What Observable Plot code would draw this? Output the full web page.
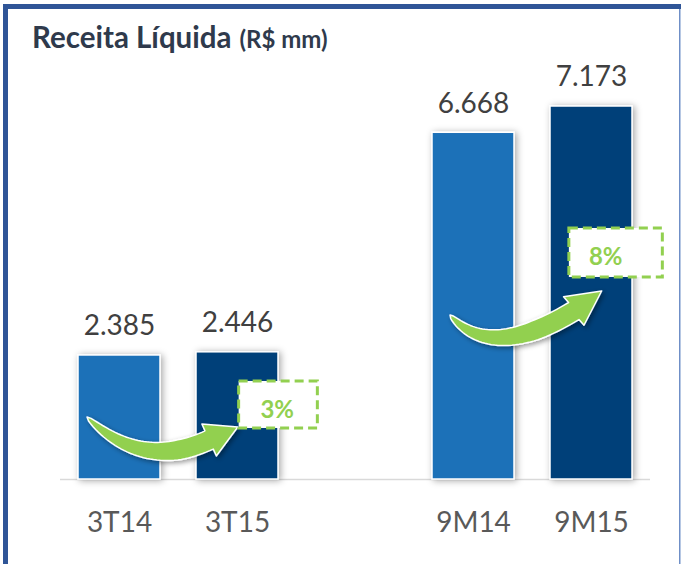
<!DOCTYPE html>
<html><head><meta charset="utf-8">
<script src="https://cdn.jsdelivr.net/npm/d3@7"></script>
<script src="https://cdn.jsdelivr.net/npm/@observablehq/plot@0.6"></script>
<style>
html,body{margin:0;padding:0;background:#fff;}
#chart{position:relative;width:681px;height:564px;overflow:hidden;}
#chart svg{position:absolute;left:0;top:0;}
</style></head><body><div id="chart"></div>
<script>
// ---- data ----
const categories = ["3T14", "3T15", "9M14", "9M15"];
const values = [2385, 2446, 6668, 7173];
const barColors = ["#1E71B8", "#004179", "#1E71B8", "#004179"];
const xDomain = ["3T14", "3T15", " ", "9M14", "9M15"]; // blank slot = group gap
const titleMain = "Receita Líquida";
const titleUnit = "(R$ mm)";

// growth annotations
const growthFrom = ["3T14", "9M14"];
const growthTo = ["3T15", "9M15"];
const growthLabels = ["3%", "8%"];
// annotation geometry: [fraction of bar width, value on y scale]
const arrowTail = [[0.11, 1192], [0.22, 3154]];   // relative to "from" bar
const arrowCtrl = [[0.78, 154], [0.71, 2250]];    // relative to "from" bar
const arrowBase = [[0.16, 750], [0.29, 3230]];    // relative to "to" bar
const arrowTip = [[0.51, 1000], [0.63, 3615]];    // relative to "to" bar
const boxX = [[0.52, 1.48], [0.23, 1.37]];        // relative to "to" bar
const boxY = [[981, 1885], [3885, 4827]];
const labelPos = [[0.99, 1330], [0.68, 4280]];    // relative to "to" bar

const data = categories.map((c, i) => ({cat: c, value: values[i]}));
const fmt = d3.formatLocale({decimal: ",", thousands: ".", grouping: [3], currency: ["R$ ", ""]}).format(",d");

const FONT = "Lato, 'Open Sans', sans-serif";

const chart = Plot.plot({
  width: 681, height: 564,
  marginTop: 63, marginBottom: 85, marginLeft: 60, marginRight: 31,
  style: {fontFamily: FONT, background: "transparent", overflow: "visible"},
  x: {type: "band", domain: xDomain, paddingInner: 0.305, paddingOuter: 0.1525},
  y: {domain: [0, 8000], axis: null},
  color: {type: "ordinal", domain: categories, range: barColors},
  marks: [
    Plot.ruleY([0], {stroke: "#d9d9d9", strokeWidth: 1.5}),
    Plot.barY(data, {x: "cat", y: "value", fill: "cat", stroke: "#ffffff", strokeWidth: 1.5}),
    Plot.text(data, {x: "cat", y: "value", text: d => fmt(d.value), dy: -29, lineAnchor: "middle", fontSize: 28, fill: "#404040"}),
    Plot.axisX({ticks: categories, tickSize: 0, tickPadding: 33, fontSize: 28, color: "#595959", label: null})
  ]
});
document.getElementById("chart").appendChild(chart);

const svg = d3.select(chart);
const defs = svg.insert("defs", ":first-child");
const f1 = defs.append("filter").attr("id", "barShadow").attr("x", "-30%").attr("y", "-30%").attr("width", "160%").attr("height", "160%");
f1.append("feDropShadow").attr("dx", 2).attr("dy", 1).attr("stdDeviation", 3.5).attr("flood-color", "#000").attr("flood-opacity", 0.35);
const f2 = defs.append("filter").attr("id", "arrowShadow").attr("x", "-30%").attr("y", "-30%").attr("width", "160%").attr("height", "160%");
f2.append("feDropShadow").attr("dx", 2).attr("dy", 2).attr("stdDeviation", 2.5).attr("flood-color", "#000").attr("flood-opacity", 0.4);
svg.select('g[aria-label="bar"]').attr("filter", "url(#barShadow)");

const xs = chart.scale("x"), ys = chart.scale("y");
const bw = xs.bandwidth;
const px = (cat, frac) => xs.apply(cat) + frac * bw;
const py = v => ys.apply(v);

function swoosh(p0, c, p1, tip, bodyW, headW) {
  const N = 40, A = [], B = [];
  for (let i = 0; i <= N; i++) {
    const t = i / N, mt = 1 - t;
    const x = mt * mt * p0[0] + 2 * mt * t * c[0] + t * t * p1[0];
    const y = mt * mt * p0[1] + 2 * mt * t * c[1] + t * t * p1[1];
    let tx = 2 * mt * (c[0] - p0[0]) + 2 * t * (p1[0] - c[0]);
    let ty = 2 * mt * (c[1] - p0[1]) + 2 * t * (p1[1] - c[1]);
    const L = Math.hypot(tx, ty); tx /= L; ty /= L;
    const w = bodyW / 2 * Math.min(1, Math.sqrt(t * 1.3));
    A.push([x - ty * w, y + tx * w]);
    B.push([x + ty * w, y - tx * w]);
  }
  let hx = tip[0] - p1[0], hy = tip[1] - p1[1];
  const HL = Math.hypot(hx, hy); hx /= HL; hy /= HL;
  const barbA = [p1[0] - hy * headW / 2, p1[1] + hx * headW / 2];
  const barbB = [p1[0] + hy * headW / 2, p1[1] - hx * headW / 2];
  const pts = [...A, barbA, tip, barbB, ...B.reverse()];
  return "M" + pts.map(p => p[0].toFixed(2) + "," + p[1].toFixed(2)).join("L") + "Z";
}

const ann = svg.append("g");
growthLabels.forEach((lab, i) => {
  const fr = growthFrom[i], to = growthTo[i];
  const p0 = [px(fr, arrowTail[i][0]), py(arrowTail[i][1])];
  const c = [px(fr, arrowCtrl[i][0]), py(arrowCtrl[i][1])];
  const p1 = [px(to, arrowBase[i][0]), py(arrowBase[i][1])];
  const tip = [px(to, arrowTip[i][0]), py(arrowTip[i][1])];
  ann.append("path").attr("d", swoosh(p0, c, p1, tip, 20, 35))
    .attr("fill", "#92D050").attr("stroke", "#ffffff").attr("stroke-width", 1.5)
    .attr("stroke-linejoin", "round").attr("filter", "url(#arrowShadow)");
});
growthLabels.forEach((lab, i) => {
  const to = growthTo[i];
  const x0 = px(to, boxX[i][0]), x1 = px(to, boxX[i][1]);
  const y0 = py(boxY[i][1]), y1 = py(boxY[i][0]);
  ann.append("rect").attr("x", x0).attr("y", y0).attr("width", x1 - x0).attr("height", y1 - y0)
    .attr("fill", "#ffffff").attr("stroke", "#92D050").attr("stroke-width", 3).attr("stroke-dasharray", "9,5");
  ann.append("text").attr("x", px(to, labelPos[i][0])).attr("y", py(labelPos[i][1]))
    .attr("text-anchor", "middle").attr("dy", "0.35em")
    .attr("font-family", FONT).attr("font-weight", 700).attr("font-size", 24)
    .attr("fill", "#92D050").text(lab);
});

// frame borders
svg.append("rect").attr("x", 3).attr("y", 4).attr("width", 678).attr("height", 5).attr("fill", "#2F5597");
svg.append("rect").attr("x", 3).attr("y", 4).attr("width", 5).attr("height", 560).attr("fill", "#2F5597");
svg.append("rect").attr("x", 679).attr("y", 9).attr("width", 1.5).attr("height", 555).attr("fill", "#6F8FC7");

// title
const t = svg.append("text").attr("x", 32).attr("y", 48).attr("text-anchor", "start")
  .attr("font-family", FONT).attr("font-weight", 700).attr("fill", "#2F3A4C");
t.append("tspan").attr("font-size", 29.5).text(titleMain);
t.append("tspan").attr("font-size", 24).attr("dx", 8).text(titleUnit);
</script>
</body></html>
